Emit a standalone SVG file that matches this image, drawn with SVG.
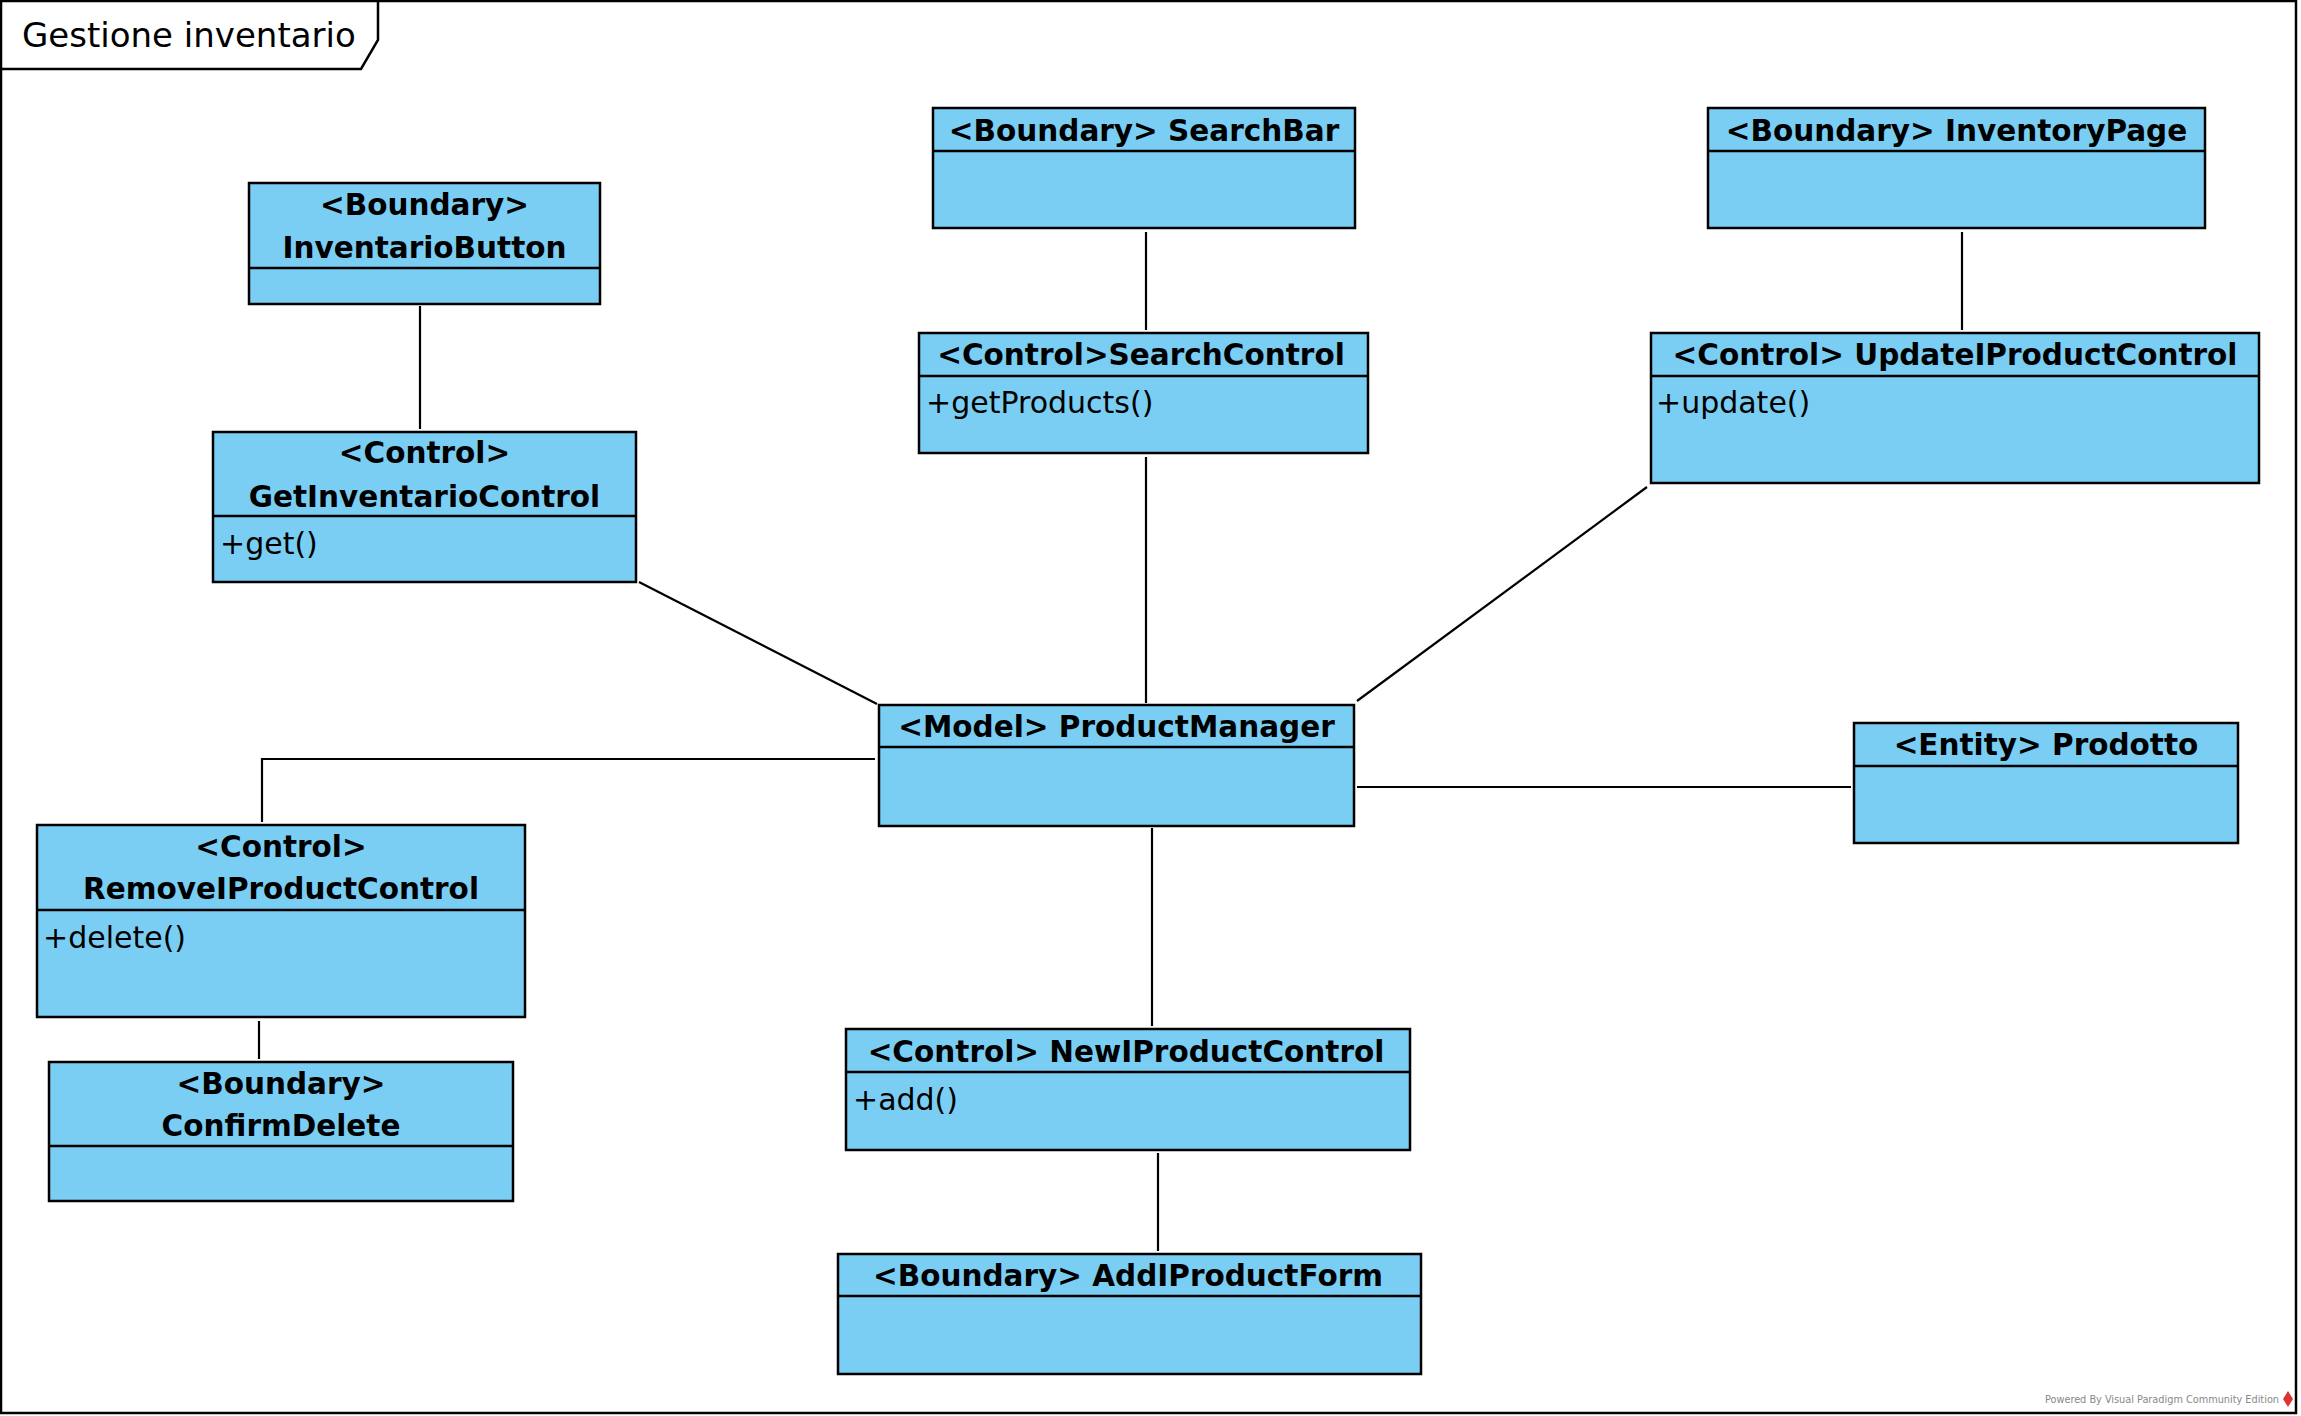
<svg xmlns="http://www.w3.org/2000/svg" width="2301" height="1416" viewBox="0 0 2301 1416">
<style>
.box{fill:#7ACEF4;stroke:#000;stroke-width:2.5}
.div{stroke:#000;stroke-width:2.5}
.hd{font-family:"DejaVu Sans",sans-serif;font-weight:bold;font-size:29.5px;fill:#000;text-anchor:middle}
.op{font-family:"DejaVu Sans",sans-serif;font-size:30px;fill:#000}
.conn line,.conn polyline{stroke:#000;stroke-width:2.2;fill:none}
</style>
<rect x="0" y="0" width="2301" height="1416" fill="#fff"/>
<g id="frame">
<rect x="1" y="1" width="2295" height="1412" fill="none" stroke="#000" stroke-width="2.5"/>
<path d="M1,69 L361,69 L378,40 L378,1" fill="none" stroke="#000" stroke-width="2.5"/>
<text x="22" y="47" font-family="DejaVu Sans,sans-serif" font-size="34" fill="#000">Gestione inventario</text>
</g>
<g class="conn" id="connectors">
<line x1="420" y1="306" x2="420" y2="429"/>
<line x1="639" y1="582" x2="877" y2="704"/>
<line x1="1146" y1="232" x2="1146" y2="330"/>
<line x1="1146" y1="457" x2="1146" y2="703"/>
<line x1="1962" y1="232" x2="1962" y2="330"/>
<line x1="1647" y1="487" x2="1357" y2="701"/>
<polyline points="875,759 262,759 262,822"/>
<line x1="259" y1="1021" x2="259" y2="1059"/>
<line x1="1357" y1="787" x2="1851" y2="787"/>
<line x1="1152" y1="828" x2="1152" y2="1026"/>
<line x1="1158" y1="1153" x2="1158" y2="1251"/>
</g>
<g id="InventarioButton">
<rect class="box" x="249" y="183" width="351" height="121"/>
<line class="div" x1="249" y1="268" x2="600" y2="268"/>
<text class="hd" x="424.5" y="215">&lt;Boundary&gt;</text>
<text class="hd" x="424.5" y="258">InventarioButton</text>
</g>
<g id="GetInventarioControl">
<rect class="box" x="213" y="432" width="423" height="150"/>
<line class="div" x1="213" y1="516" x2="636" y2="516"/>
<text class="hd" x="424.5" y="463">&lt;Control&gt;</text>
<text class="hd" x="424.5" y="507">GetInventarioControl</text>
<text class="op" x="220" y="554">+get()</text>
</g>
<g id="SearchBar">
<rect class="box" x="933" y="108" width="422" height="120"/>
<line class="div" x1="933" y1="151" x2="1355" y2="151"/>
<text class="hd" x="1144" y="141">&lt;Boundary&gt; SearchBar</text>
</g>
<g id="InventoryPage">
<rect class="box" x="1708" y="108" width="497" height="120"/>
<line class="div" x1="1708" y1="151" x2="2205" y2="151"/>
<text class="hd" x="1956.5" y="141">&lt;Boundary&gt; InventoryPage</text>
</g>
<g id="SearchControl">
<rect class="box" x="919" y="333" width="449" height="120"/>
<line class="div" x1="919" y1="376" x2="1368" y2="376"/>
<text class="hd" x="1141" y="365">&lt;Control&gt;SearchControl</text>
<text class="op" x="926" y="413">+getProducts()</text>
</g>
<g id="UpdateIProductControl">
<rect class="box" x="1651" y="333" width="608" height="150"/>
<line class="div" x1="1651" y1="376" x2="2259" y2="376"/>
<text class="hd" x="1955" y="365">&lt;Control&gt; UpdateIProductControl</text>
<text class="op" x="1656" y="413">+update()</text>
</g>
<g id="ProductManager">
<rect class="box" x="879" y="705" width="475" height="121"/>
<line class="div" x1="879" y1="747" x2="1354" y2="747"/>
<text class="hd" x="1116.5" y="737">&lt;Model&gt; ProductManager</text>
</g>
<g id="Prodotto">
<rect class="box" x="1854" y="723" width="384" height="120"/>
<line class="div" x1="1854" y1="766" x2="2238" y2="766"/>
<text class="hd" x="2046" y="755">&lt;Entity&gt; Prodotto</text>
</g>
<g id="RemoveIProductControl">
<rect class="box" x="37" y="825" width="488" height="192"/>
<line class="div" x1="37" y1="910" x2="525" y2="910"/>
<text class="hd" x="281" y="857">&lt;Control&gt;</text>
<text class="hd" x="281" y="899">RemoveIProductControl</text>
<text class="op" x="43" y="948">+delete()</text>
</g>
<g id="ConfirmDelete">
<rect class="box" x="49" y="1062" width="464" height="139"/>
<line class="div" x1="49" y1="1146" x2="513" y2="1146"/>
<text class="hd" x="281" y="1094">&lt;Boundary&gt;</text>
<text class="hd" x="281" y="1136">ConfirmDelete</text>
</g>
<g id="NewIProductControl">
<rect class="box" x="846" y="1029" width="564" height="121"/>
<line class="div" x1="846" y1="1072" x2="1410" y2="1072"/>
<text class="hd" x="1126" y="1062">&lt;Control&gt; NewIProductControl</text>
<text class="op" x="853" y="1110">+add()</text>
</g>
<g id="AddIProductForm">
<rect class="box" x="838" y="1254" width="583" height="120"/>
<line class="div" x1="838" y1="1296" x2="1421" y2="1296"/>
<text class="hd" x="1128" y="1286">&lt;Boundary&gt; AddIProductForm</text>
</g>
<g id="watermark">
<text x="2045" y="1403" font-family="DejaVu Sans Condensed,DejaVu Sans,sans-serif" font-size="11" fill="#888" textLength="234" lengthAdjust="spacingAndGlyphs">Powered By Visual Paradigm Community Edition</text>
<path d="M2288,1391 L2293,1399 L2288,1407 L2283,1399 Z" fill="#d33"/>
</g>
</svg>
